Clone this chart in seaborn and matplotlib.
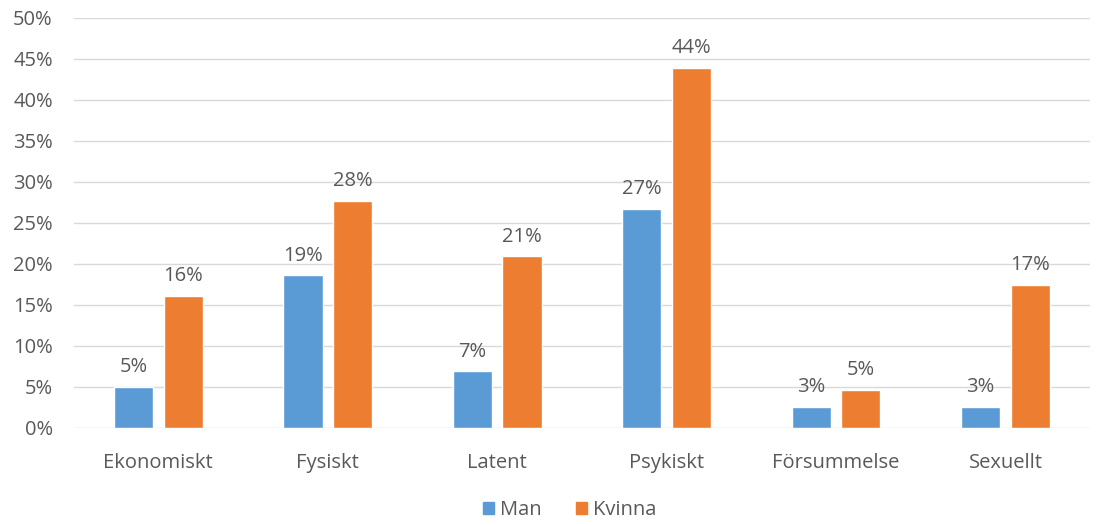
import pandas as pd
import matplotlib.pyplot as plt
import seaborn as sns
from matplotlib.patches import Patch

categories = ['Ekonomiskt', 'Fysiskt', 'Latent', 'Psykiskt', 'Försummelse', 'Sexuellt']
man = [5.0, 18.6, 6.9, 26.7, 2.6, 2.6]
kvinna = [16.1, 27.7, 20.9, 43.9, 4.6, 17.4]
series = ['Man', 'Kvinna']
colors = ['#5B9BD5', '#ED7D31']

df = pd.DataFrame({
    'kategori': categories * 2,
    'grupp': ['Man'] * len(categories) + ['Kvinna'] * len(categories),
    'andel': man + kvinna,
})

sns.set_style('white')
plt.rcParams['font.family'] = ['Open Sans', 'DejaVu Sans']
text_color = '#595959'
fs = 14.5

fig = plt.figure(figsize=(10.99, 5.25), dpi=100)
ax = fig.add_axes([0.067, 0.185, 0.925, 0.781])

sns.barplot(data=df, x='kategori', y='andel', hue='grupp', hue_order=series,
            palette=colors, width=0.586, gap=0.21, saturation=1, ax=ax, legend=False)

for container in ax.containers:
    ax.bar_label(container, fmt='%.0f%%', padding=7, fontsize=fs, color=text_color)

ax.set_ylim(0, 50)
ax.set_yticks(range(0, 51, 5))
ax.set_yticklabels([f'{v}%' for v in range(0, 51, 5)])
ax.set_xlim(-0.5, len(categories) - 0.5)
ax.yaxis.grid(True, color='#D9D9D9', linewidth=1)
ax.set_axisbelow(True)
for s in ax.spines.values():
    s.set_visible(False)
ax.tick_params(axis='both', length=0, labelsize=fs, labelcolor=text_color)
ax.tick_params(axis='x', pad=18)
ax.tick_params(axis='y', pad=15)
ax.set_xlabel('')
ax.set_ylabel('')

# legend sits a little right of the figure centre, like the original
handles = [Patch(color=c, label=s) for s, c in zip(series, colors)]
fig.legend(handles=handles, loc='lower center', bbox_to_anchor=(0.518, -0.025), ncol=2,
           frameon=False, fontsize=fs, labelcolor=text_color,
           handlelength=0.55, handleheight=0.55, handletextpad=0.3, columnspacing=1.7)

fig.savefig('out.png', dpi=100)
